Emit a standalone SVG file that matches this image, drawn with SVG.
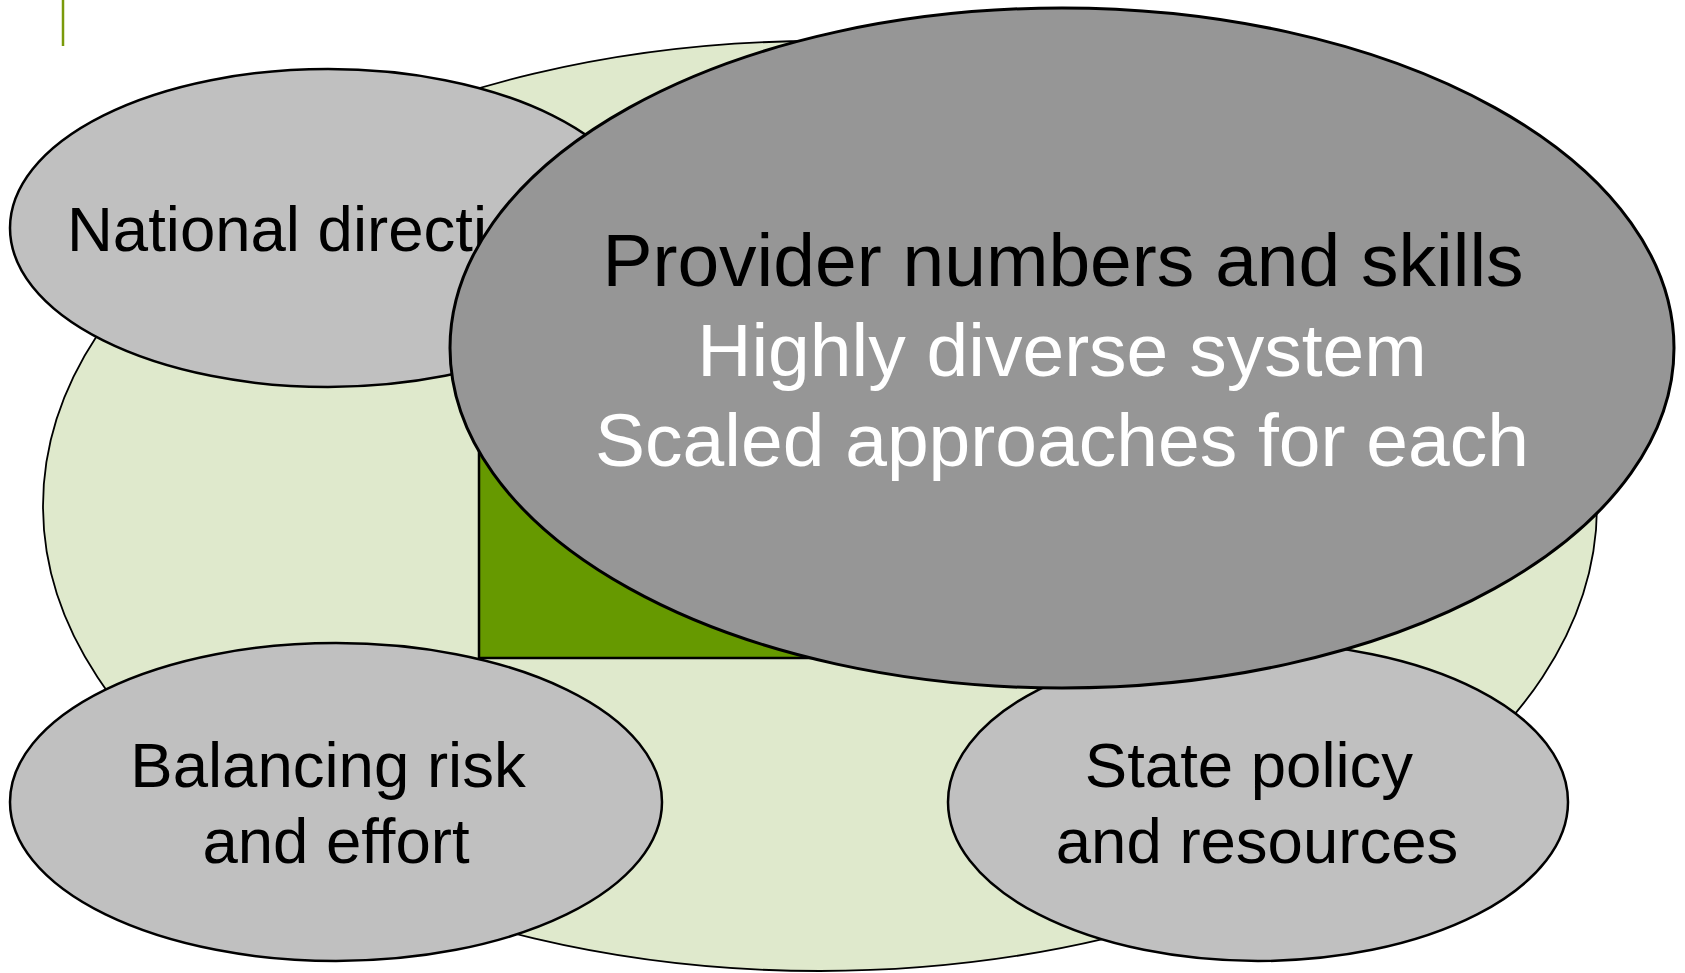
<svg xmlns="http://www.w3.org/2000/svg" width="1685" height="973" viewBox="0 0 1685 973">
  <style>
    .lbl { font-family: "Liberation Sans", Arial, sans-serif; font-size: 63.5px; fill: #000000; text-anchor: middle; }
    .big { font-family: "Liberation Sans", Arial, sans-serif; font-size: 75px; text-anchor: middle; }
    .grey { fill: #c0c0c0; stroke: #000000; stroke-width: 2.5; }
  </style>
  <rect x="0" y="0" width="1685" height="973" fill="#ffffff"/>
  <line x1="63" y1="0" x2="63" y2="46" stroke="#7a9a0a" stroke-width="2.5"/>
  <g id="background">
    <ellipse cx="820" cy="506" rx="777" ry="465" fill="#dfe9cc" stroke="#000000" stroke-width="1.8"/>
    <rect x="479" y="300" width="682" height="358" fill="#669900" stroke="#000000" stroke-width="2.5"/>
  </g>
  <g id="national-direction">
    <ellipse class="grey" cx="328" cy="228" rx="318" ry="159"/>
    <text x="67" y="251" style="font-family:'Liberation Sans',Arial,sans-serif;font-size:63.5px">National direction</text>
  </g>
  <g id="balancing-risk">
    <ellipse class="grey" cx="336" cy="802" rx="326" ry="159"/>
    <text class="lbl" x="328" y="787">Balancing risk</text>
    <text class="lbl" x="336" y="863">and effort</text>
  </g>
  <g id="state-policy">
    <ellipse class="grey" cx="1258" cy="802" rx="310" ry="159"/>
    <text class="lbl" x="1249" y="787">State policy</text>
    <text class="lbl" x="1257" y="863">and resources</text>
  </g>
  <g id="provider-numbers">
    <ellipse cx="1062" cy="348" rx="612" ry="340" fill="#969696" stroke="#000000" stroke-width="3"/>
    <text class="big" x="1063" y="286" fill="#000000">Provider numbers and skills</text>
    <text class="big" x="1062" y="376" fill="#ffffff">Highly diverse system</text>
    <text class="big" x="1062" y="466" fill="#ffffff">Scaled approaches for each</text>
  </g>
  <g id="connectors"></g>
</svg>
